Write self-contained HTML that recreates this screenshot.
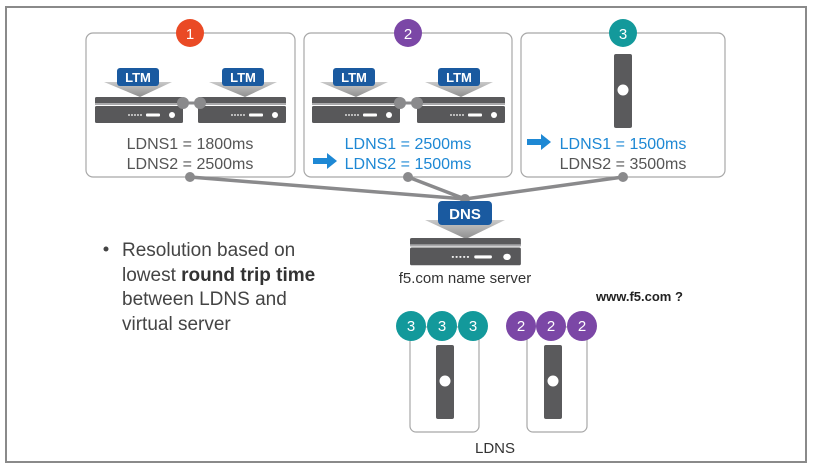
<!DOCTYPE html>
<html><head><meta charset="utf-8"><style>
html,body{margin:0;padding:0;background:#fff;}
svg{display:block;font-family:"Liberation Sans",sans-serif;}
</style></head><body>
<svg width="815" height="472" viewBox="0 0 815 472" xmlns="http://www.w3.org/2000/svg">
<defs>
<linearGradient id="tri" x1="0" y1="0" x2="0" y2="1"><stop offset="0" stop-color="#c9c9c9"/><stop offset="1" stop-color="#8e8e8e"/></linearGradient>
<g id="srv">
<rect x="0" y="0" width="88" height="8" rx="1.5" fill="#5a5a5c"/>
<rect x="0" y="6" width="88" height="2" fill="#a9a9ab"/>
<rect x="0" y="9" width="88" height="17" rx="1.5" fill="#58585a"/>
<g fill="#fff"><circle cx="34" cy="18" r="0.9"/><circle cx="37" cy="18" r="0.9"/><circle cx="40" cy="18" r="0.9"/><circle cx="43" cy="18" r="0.9"/><circle cx="46" cy="18" r="0.9"/>
<rect x="51" y="16.5" width="14" height="3" rx="1"/><circle cx="77" cy="18" r="3"/></g>
</g>
<g id="vdev">
<rect x="0" y="0" width="18" height="74" rx="2" fill="#5a5a5c"/>
<circle cx="9" cy="36" r="5.5" fill="#fff"/>
</g>
</defs>
<rect x="6" y="7" width="800" height="455" fill="none" stroke="#8a8a8a" stroke-width="2"/>

<rect x="86" y="33" width="209" height="144" rx="7" fill="none" stroke="#a8a8a8" stroke-width="1.2"/>
<rect x="304" y="33" width="208" height="144" rx="7" fill="none" stroke="#a8a8a8" stroke-width="1.2"/>
<rect x="521" y="33" width="204" height="144" rx="7" fill="none" stroke="#a8a8a8" stroke-width="1.2"/>

<g stroke="#8a8a8c" stroke-width="3.5" fill="none">
<line x1="190" y1="177" x2="465" y2="199"/>
<line x1="408" y1="177" x2="465" y2="199"/>
<line x1="623" y1="177" x2="465" y2="199"/>
</g>
<g fill="#8a8a8c"><circle cx="190" cy="177" r="5"/><circle cx="408" cy="177" r="5"/><circle cx="623" cy="177" r="5"/><circle cx="465" cy="199" r="5"/></g>

<circle cx="190" cy="33" r="14" fill="#ea4a25"/><text x="190" y="39" font-size="15" fill="#fff" text-anchor="middle">1</text>
<circle cx="408" cy="33" r="14" fill="#7b47a6"/><text x="408" y="39" font-size="15" fill="#fff" text-anchor="middle">2</text>
<circle cx="623" cy="33" r="14" fill="#13999b"/><text x="623" y="39" font-size="15" fill="#fff" text-anchor="middle">3</text>

<g>
<polygon points="104,82 172,82 140,97" fill="url(#tri)"/>
<rect x="117" y="68" width="42" height="18" rx="3" fill="#1a5aa0"/>
<text x="138" y="82" font-size="13" font-weight="bold" fill="#fff" text-anchor="middle">LTM</text>
</g>
<use href="#srv" x="95" y="97"/>
<g transform="translate(105,0)">
<polygon points="104,82 172,82 140,97" fill="url(#tri)"/>
<rect x="117" y="68" width="42" height="18" rx="3" fill="#1a5aa0"/>
<text x="138" y="82" font-size="13" font-weight="bold" fill="#fff" text-anchor="middle">LTM</text>
</g>
<use href="#srv" x="198" y="97"/>
<g fill="#8a8a8c"><circle cx="183" cy="103" r="6"/><circle cx="200" cy="103" r="6"/></g>
<line x1="183" y1="103" x2="200" y2="103" stroke="#8a8a8c" stroke-width="3"/>
<text x="190" y="149" font-size="16" fill="#555" text-anchor="middle">LDNS1 = 1800ms</text>
<text x="190" y="169" font-size="16" fill="#555" text-anchor="middle">LDNS2 = 2500ms</text>

<g transform="translate(216,0)">
<polygon points="104,82 172,82 140,97" fill="url(#tri)"/>
<rect x="117" y="68" width="42" height="18" rx="3" fill="#1a5aa0"/>
<text x="138" y="82" font-size="13" font-weight="bold" fill="#fff" text-anchor="middle">LTM</text>
</g>
<use href="#srv" x="312" y="97"/>
<g transform="translate(321,0)">
<polygon points="104,82 172,82 140,97" fill="url(#tri)"/>
<rect x="117" y="68" width="42" height="18" rx="3" fill="#1a5aa0"/>
<text x="138" y="82" font-size="13" font-weight="bold" fill="#fff" text-anchor="middle">LTM</text>
</g>
<use href="#srv" x="417" y="97"/>
<g fill="#8a8a8c"><circle cx="400" cy="103" r="6"/><circle cx="417" cy="103" r="6"/></g>
<line x1="400" y1="103" x2="417" y2="103" stroke="#8a8a8c" stroke-width="3"/>
<text x="408" y="149" font-size="16" fill="#1e88d4" text-anchor="middle">LDNS1 = 2500ms</text>
<text x="408" y="169" font-size="16" fill="#1e88d4" text-anchor="middle">LDNS2 = 1500ms</text>
<polygon points="313,158 327,158 327,153 337,161 327,169 327,164 313,164" fill="#1e88d4"/>

<use href="#vdev" x="614" y="54"/>
<polygon points="527,139 541,139 541,134 551,142 541,150 541,145 527,145" fill="#1e88d4"/>
<text x="623" y="149" font-size="16" fill="#1e88d4" text-anchor="middle">LDNS1 = 1500ms</text>
<text x="623" y="169" font-size="16" fill="#555" text-anchor="middle">LDNS2 = 3500ms</text>

<polygon points="425,220 505,220 466,239" fill="url(#tri)"/>
<rect x="438" y="201" width="54" height="24" rx="4" fill="#1a5aa0"/>
<text x="465" y="219" font-size="15" font-weight="bold" fill="#fff" text-anchor="middle">DNS</text>
<g transform="translate(410,238) scale(1.26,1.05)"><use href="#srv"/></g>
<text x="465" y="283" font-size="15" fill="#333" text-anchor="middle">f5.com name server</text>

<g font-size="19" fill="#444">
<circle cx="106" cy="249" r="2.5" fill="#444"/>
<text x="122" y="256">Resolution based on</text>
<text x="122" y="281">lowest <tspan font-weight="bold" fill="#333">round trip time</tspan></text>
<text x="122" y="305">between LDNS and</text>
<text x="122" y="330">virtual server</text>
</g>

<text x="596" y="301" font-size="13" font-weight="bold" fill="#222">www.f5.com ?</text>

<rect x="410" y="327" width="69" height="105" rx="6" fill="none" stroke="#a8a8a8" stroke-width="1.2"/>
<rect x="527" y="327" width="60" height="105" rx="6" fill="none" stroke="#a8a8a8" stroke-width="1.2"/>
<use href="#vdev" x="436" y="345"/>
<use href="#vdev" x="544" y="345"/>
<g font-size="15" fill="#fff" text-anchor="middle">
<circle cx="411" cy="326" r="15" fill="#13999b"/><text x="411" y="331">3</text>
<circle cx="442" cy="326" r="15" fill="#13999b"/><text x="442" y="331">3</text>
<circle cx="473" cy="326" r="15" fill="#13999b"/><text x="473" y="331">3</text>
<circle cx="521" cy="326" r="15" fill="#7b47a6"/><text x="521" y="331">2</text>
<circle cx="551" cy="326" r="15" fill="#7b47a6"/><text x="551" y="331">2</text>
<circle cx="582" cy="326" r="15" fill="#7b47a6"/><text x="582" y="331">2</text>
</g>
<text x="495" y="453" font-size="15" fill="#333" text-anchor="middle">LDNS</text>
</svg>
</body></html>
